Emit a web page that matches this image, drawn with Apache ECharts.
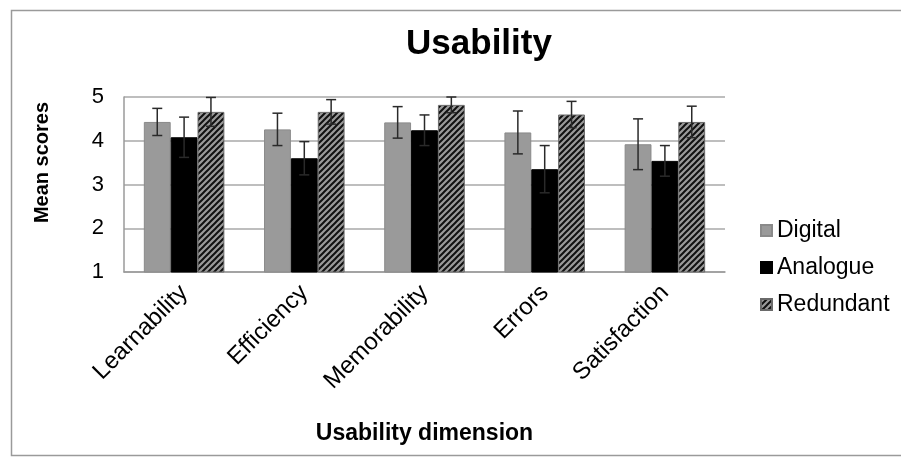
<!DOCTYPE html>
<html>
<head>
<meta charset="utf-8">
<script src="https://cdn.jsdelivr.net/npm/echarts@6/dist/echarts.min.js"></script>
<style>html,body{margin:0;padding:0;background:#fff}#c{width:901px;height:457px}</style>
</head>
<body>
<div id="c"></div>
<script>
const categories = ['Learnability', 'Efficiency', 'Memorability', 'Errors', 'Satisfaction'];
const seriesNames = ['Digital', 'Analogue', 'Redundant'];
const digital = [4.43, 4.26, 4.42, 4.19, 3.92];
const digitalErr = [0.31, 0.37, 0.36, 0.49, 0.58];
const analogue = [4.08, 3.60, 4.24, 3.35, 3.54];
const analogueErr = [0.46, 0.38, 0.35, 0.54, 0.35];
const redundant = [4.66, 4.66, 4.82, 4.60, 4.43];
const redundantErr = [0.33, 0.28, 0.18, 0.30, 0.36];
const yTicks = [1, 2, 3, 4, 5];

const FONT = '"Liberation Sans", Arial, sans-serif';

// hatch pattern for Redundant
function hatch() {
  const s = 6;
  const cv = document.createElement('canvas');
  cv.width = s; cv.height = s;
  const g = cv.getContext('2d');
  g.fillStyle = '#9a9a9a';
  g.fillRect(0, 0, s, s);
  g.strokeStyle = '#111';
  g.lineWidth = 2;
  g.beginPath();
  g.moveTo(-1, s + 1); g.lineTo(s + 1, -1);
  g.moveTo(-1, 1); g.lineTo(1, -1);
  g.moveTo(s - 1, s + 1); g.lineTo(s + 1, s - 1);
  g.stroke();
  return cv;
}
const hatchPattern = { image: hatch(), repeat: 'repeat' };

const values = [digital, analogue, redundant];
const errs = [digitalErr, analogueErr, redundantErr];
const colors = ['#9a9a9a', '#000000', hatchPattern];
const gapRatio = 0.33;

function errSeries(idx) {
  const data = categories.map((c, i) => [i, values[idx][i], errs[idx][i]]);
  return {
    type: 'custom',
    name: seriesNames[idx] + ' error',
    z: 10,
    silent: true,
    data: data,
    renderItem: function (params, api) {
      const ci = api.value(0), v = api.value(1), e = api.value(2);
      const catW = api.size([1, 0])[0];
      const bw = catW * (1 - gapRatio) / 3;
      const center = api.coord([ci, v]);
      const x = center[0] + (idx - 1) * bw;
      const top = api.coord([ci, v + e])[1];
      const bot = api.coord([ci, v - e])[1];
      const cap = 5;
      const style = { stroke: '#2a2a2a', lineWidth: 1.5 };
      return {
        type: 'group',
        children: [
          { type: 'line', shape: { x1: x, y1: top, x2: x, y2: bot }, style: style },
          { type: 'line', shape: { x1: x - cap, y1: top, x2: x + cap, y2: top }, style: style },
          { type: 'line', shape: { x1: x - cap, y1: bot, x2: x + cap, y2: bot }, style: style }
        ]
      };
    }
  };
}

const chart = echarts.init(document.getElementById('c'), null, { renderer: 'canvas' });
chart.setOption({
  animation: false,
  backgroundColor: '#fff',
  textStyle: { fontFamily: FONT, color: '#000' },
  graphic: [{
    type: 'rect', left: 9, top: 8,
    shape: { width: 900, height: 445 },
    style: { fill: 'none', stroke: '#9a9a9a', lineWidth: 1.5 },
    silent: true, z: -1
  }],
  title: {
    text: 'Usability', left: 474, top: 22, textAlign: 'center',
    textStyle: { fontFamily: FONT, fontSize: 35, fontWeight: 'bold', color: '#000' }
  },
  legend: {
    orient: 'vertical', left: 755, top: 214,
    itemWidth: 11, itemHeight: 11, itemGap: 14,
    data: seriesNames,
    textStyle: { fontFamily: FONT, fontSize: 23, color: '#000' },
    icon: 'rect'
  },
  grid: { left: 124, right: 176, top: 97, bottom: 185, containLabel: false },
  xAxis: {
    type: 'category', data: categories,
    name: 'Usability dimension', nameLocation: 'middle', nameGap: 150,
    nameTextStyle: { fontFamily: FONT, fontSize: 23, fontWeight: 'bold', color: '#000' },
    axisLine: { lineStyle: { color: '#9a9a9a', width: 1.5 } },
    axisTick: { show: false },
    axisLabel: { rotate: 45, fontSize: 24, color: '#000', margin: 17, fontFamily: FONT, interval: 0 }
  },
  yAxis: {
    type: 'value', min: 1, max: 5, interval: 1,
    name: 'Mean scores', nameLocation: 'middle', nameGap: 72,
    nameTextStyle: { fontFamily: FONT, fontSize: 20, fontWeight: 'bold', color: '#000', padding: [0, 0, 0, 44] },
    axisLine: { show: true, lineStyle: { color: '#9a9a9a', width: 1.5 } },
    axisTick: { show: false },
    axisLabel: { fontSize: 22, color: '#000', margin: 20, fontFamily: FONT,
      formatter: v => (yTicks.indexOf(v) >= 0 ? String(v) : '') },
    splitLine: { lineStyle: { color: '#a8a8a8', width: 1.5 } }
  },
  series: [
    { type: 'bar', name: 'Digital', data: digital, barGap: '0%', barCategoryGap: '33%',
      itemStyle: { color: colors[0], borderColor: '#8a8a8a', borderWidth: 1 } },
    { type: 'bar', name: 'Analogue', data: analogue, barGap: '0%', barCategoryGap: '33%',
      itemStyle: { color: colors[1], borderColor: '#000', borderWidth: 1 } },
    { type: 'bar', name: 'Redundant', data: redundant, barGap: '0%', barCategoryGap: '33%',
      itemStyle: { color: colors[2], borderColor: '#6a6a6a', borderWidth: 1 } },
    errSeries(0), errSeries(1), errSeries(2)
  ]
});
</script>
</body>
</html>
